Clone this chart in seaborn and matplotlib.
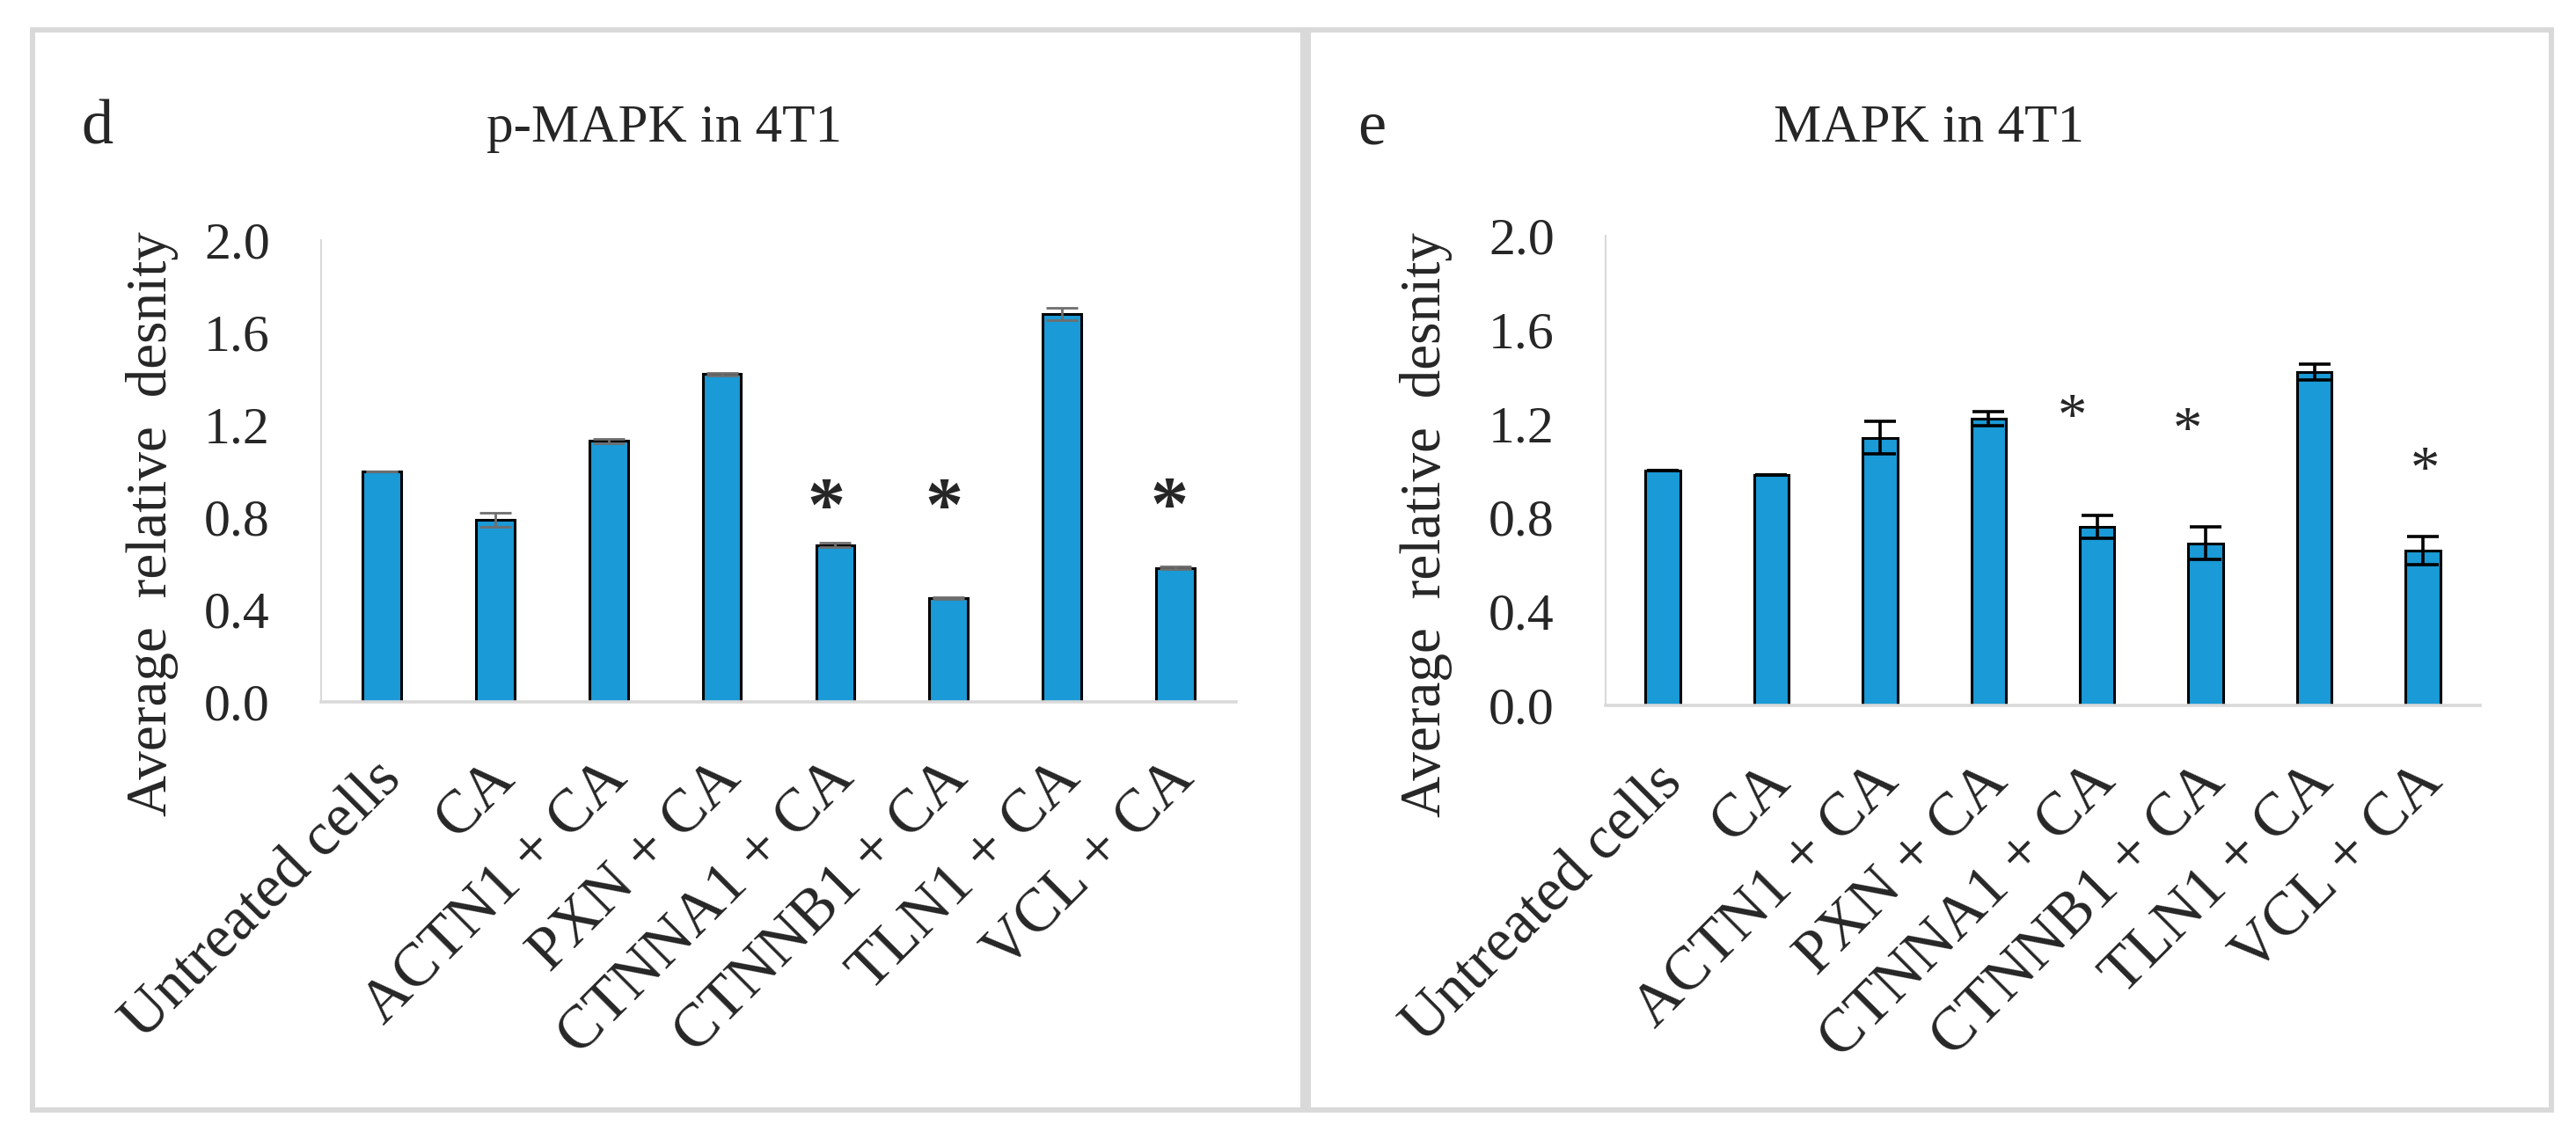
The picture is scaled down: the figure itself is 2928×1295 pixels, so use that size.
import matplotlib
matplotlib.use("Agg")
import matplotlib.pyplot as plt
import matplotlib.transforms as mtransforms
from matplotlib.patches import Rectangle
import seaborn as sns

# data
categories = ["Untreated cells", "CA", "ACTN1 + CA", "PXN + CA",
              "CTNNA1 + CA", "CTNNB1 + CA", "TLN1 + CA", "VCL + CA"]

pmapk_mean = [1.00, 0.79, 1.13, 1.42, 0.68, 0.45, 1.68, 0.58]
pmapk_err = [0.00, 0.03, 0.01, 0.005, 0.01, 0.005, 0.025, 0.005]
pmapk_star_idx = [4, 5, 7]
pmapk_star_y = [0.90, 0.90, 0.905]

mapk_mean = [1.00, 0.98, 1.14, 1.22, 0.76, 0.69, 1.42, 0.66]
mapk_err = [0.00, 0.00, 0.07, 0.03, 0.05, 0.07, 0.035, 0.06]
mapk_star_idx = [4, 5, 7]
mapk_star_y = [1.275, 1.22, 1.05]

yticks = [0.0, 0.4, 0.8, 1.2, 1.6, 2.0]

BAR = "#1a9ad6"
GRID = "#d9d9d9"
W, H = 2928, 1295

sns.set_style("white")
plt.rcParams["font.family"] = ["Liberation Serif", "DejaVu Serif"]

fig = plt.figure(figsize=(W / 100, H / 100), dpi=100)


def px_axes(x0, x1, ytop, ybot):
    return fig.add_axes([x0 / W, 1 - ybot / H, (x1 - x0) / W, (ybot - ytop) / H])


def panel(ax, means, errs, star_idx, star_y, star_dx, star_size, star_weight,
          err_color, err_lw, bar_w, title, letter, title_x, letter_x, ylab_x):
    sns.barplot(x=categories, y=means, ax=ax, color=BAR, edgecolor="black",
                linewidth=2.2, width=bar_w, saturation=1)
    ax.errorbar(range(len(categories)), means, yerr=errs, fmt="none",
                ecolor=err_color, elinewidth=err_lw, capsize=13,
                capthick=err_lw, zorder=5)
    ax.set_ylim(0, 2.0)
    ax.set_yticks(yticks)
    ax.set_yticklabels([f"{t:.1f}" for t in yticks])
    for s in ["top", "right"]:
        ax.spines[s].set_visible(False)
    ax.spines["left"].set_color(GRID)
    ax.spines["left"].set_linewidth(1.5)
    ax.spines["bottom"].set_color(GRID)
    ax.spines["bottom"].set_linewidth(2.6)
    ax.tick_params(axis="y", length=0, pad=42, labelsize=43)
    ax.tick_params(axis="x", length=0, pad=56, labelsize=50)
    shift = mtransforms.ScaledTranslation(0.12, 0, fig.dpi_scale_trans)
    for lab in ax.get_xticklabels():
        lab.set_rotation(45)
        lab.set_ha("right")
        lab.set_va("center")
        lab.set_rotation_mode("anchor")
        lab.set_transform(lab.get_transform() + shift)
    ax.set_ylabel("Average  relative  desnity", fontsize=47)
    ax.yaxis.set_label_coords(ylab_x, 0.385)

    # significance marks
    em = star_size
    tr = mtransforms.offset_copy(ax.transData, fig=fig, y=-0.47 * em, units="points")
    for i, yv, dx in zip(star_idx, star_y, star_dx):
        ax.text(i + dx, yv, "*", transform=tr, ha="center", va="baseline",
                fontsize=star_size, fontweight=star_weight)

    fig.text(title_x / W, 1 - 161 / H, title, fontsize=44, ha="center", va="baseline")
    fig.text(letter_x / W, 1 - 164 / H, letter, fontsize=52, ha="left", va="baseline")


ax1 = px_axes(365, 1405, 273, 798)
panel(ax1, pmapk_mean, pmapk_err, pmapk_star_idx, pmapk_star_y,
      [-0.08, -0.04, -0.05], 62, "bold", "#6e6e6e", 2.0, 0.34,
      "p-MAPK in 4T1", "d", 755, 92, -0.156)

ax2 = px_axes(1825, 2819, 268, 802)
panel(ax2, mapk_mean, mapk_err, mapk_star_idx, mapk_star_y,
      [-0.23, -0.17, 0.02], 48, "normal", "black", 2.6, 0.32,
      "MAPK in 4T1", "e", 2192, 1543, -0.175)

# panel frames
for x0, x1 in [(37, 1481), (1487, 2900)]:
    fig.patches.append(Rectangle((x0 / W, 1 - 1262 / H), (x1 - x0) / W, (1262 - 34) / H,
                                 transform=fig.transFigure, fill=False,
                                 edgecolor=GRID, linewidth=4.3, zorder=0))

fig.savefig("out.png", dpi=100, facecolor="white")
